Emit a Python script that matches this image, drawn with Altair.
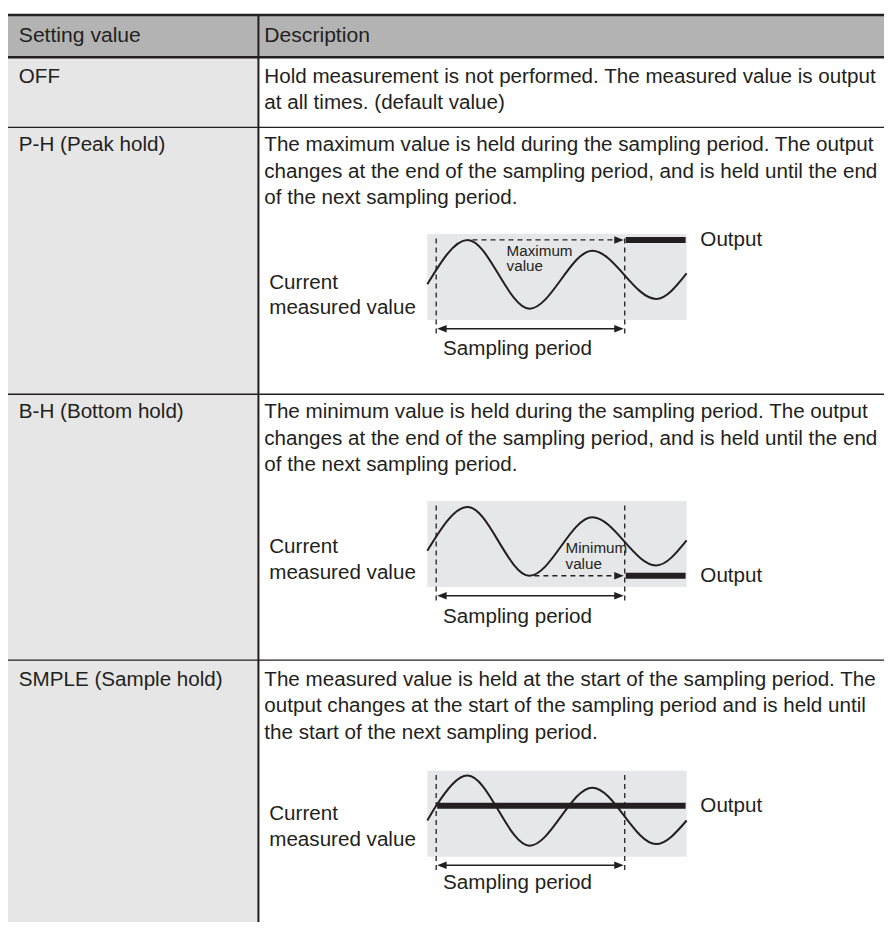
import altair as alt
import pandas as pd

# ------------------------------------------------------------------ data
HEADERS = ["Setting value", "Description"]
SETTINGS = ["OFF", "P-H (Peak hold)", "B-H (Bottom hold)", "SMPLE (Sample hold)"]
DESCRIPTIONS = [
    ["Hold measurement is not performed. The measured value is output",
     "at all times. (default value)"],
    ["The maximum value is held during the sampling period. The output",
     "changes at the end of the sampling period, and is held until the end",
     "of the next sampling period."],
    ["The minimum value is held during the sampling period. The output",
     "changes at the end of the sampling period, and is held until the end",
     "of the next sampling period."],
    ["The measured value is held at the start of the sampling period. The",
     "output changes at the start of the sampling period and is held until",
     "the start of the next sampling period."],
]
DIAGRAMS = ["P-H", "B-H", "SMPLE"]
SIGNAL_LABEL = ["Current", "measured value"]
OUTPUT_LABEL = "Output"
PERIOD_LABEL = "Sampling period"
HOLD_LABELS = [["Maximum", "value"], ["Minimum", "value"], []]

# measured signal: position across the box / depth below the box top
WAVE_POS = [[0, 41, 104, 168, 233, 264],
            [0, 41, 104, 168, 233, 264],
            [0, 9, 41, 104, 168, 233, 264]]
WAVE_DEPTH = [[51, 6, 76, 17, 66, 40],
              [50.5, 6, 76, 16.5, 65.5, 40],
              [50.7, 35.7, 5, 76.3, 17.3, 74.7, 50.7]]
# held output level (depth below the box top)
OUTPUT_DEPTH = [6, 76, 35.7]

# ------------------------------------------------------------------ layout
REF_W, REF_H = 892, 930
PLOT_W, PLOT_H = 876, 914
K = PLOT_W / REF_W

TOP_Y = 7
ROW_Y = [50, 121.5, 393, 663.5]
COL_X = 255
LEFT_X = 11
DESC_X = 261
HEAD_BASE = 34.5
ROW_BASE = [76, 145.7, 417.6, 689.7]
LINE_GAP = 26.8
BODY_FS = 21 * K
HEAD_FS = 21.5 * K
SMALL_FS = 15.5 * K

BOX_TOP = [230, 501.7, 776]
BOX_L, BOX_R, BOX_H = 427, 691, 87.5
PER_A, PER_B = 436, 628
SIGNAL_X = 266
SIGNAL_BASE = [[285.5, 311], [554.5, 581], [826, 852.5]]
OUTPUT_X = 705
PERIOD_X = 443
PERIOD_BASE = [353, 625.4, 896.7]
HOLD_X = [507.7, 567.7, 0]
HOLD_BASE = [[252, 267.7], [555, 570.7], []]
OUT_START = [PER_B + 1, PER_B + 1, PER_A + 1]

INK = "#231f20"
HEAD_FILL = "#b3b3b3"
LEFT_FILL = "#e6e6e6"
BOX_FILL = "#e6e7e8"

xs = alt.Scale(domain=[0, REF_W], nice=False, zero=False)
ys = alt.Scale(domain=[0, REF_H], nice=False, zero=False, reverse=True)
X = lambda f="x": alt.X(f"{f}:Q", scale=xs, axis=None)
Y = lambda f="y": alt.Y(f"{f}:Q", scale=ys, axis=None)

# ---- fills
rects = [dict(x=0, x2=REF_W, y=TOP_Y, y2=ROW_Y[0], fill=HEAD_FILL),
         dict(x=0, x2=COL_X, y=ROW_Y[0], y2=REF_H, fill=LEFT_FILL)]
for t in BOX_TOP:
    rects.append(dict(x=BOX_L, x2=BOX_R, y=t, y2=t + BOX_H, fill=BOX_FILL))
rect_layer = alt.Chart(pd.DataFrame(rects)).mark_rect().encode(
    x=X(), x2="x2:Q", y=Y(), y2="y2:Q", fill=alt.Fill("fill:N", scale=None))

# ---- solid rules
rules = [dict(x=0, x2=REF_W, y=TOP_Y, y2=TOP_Y, w=2.5),
         dict(x=0, x2=REF_W, y=ROW_Y[0], y2=ROW_Y[0], w=2.5)]
for ry in ROW_Y[1:]:
    rules.append(dict(x=0, x2=REF_W, y=ry, y2=ry, w=1.3))
rules.append(dict(x=COL_X, x2=COL_X, y=TOP_Y, y2=REF_H, w=2))
for i, t in enumerate(BOX_TOP):
    oy = t + OUTPUT_DEPTH[i]
    rules.append(dict(x=OUT_START[i], x2=BOX_R - 1, y=oy, y2=oy, w=6))
    sy = t + 96.3
    rules.append(dict(x=PER_A + 8, x2=PER_B - 9, y=sy, y2=sy, w=1.5))
rule_layer = alt.Chart(pd.DataFrame(rules)).mark_rule(color=INK).encode(
    x=X(), x2="x2:Q", y=Y(), y2="y2:Q", strokeWidth=alt.StrokeWidth("w:Q", scale=None))

# ---- dashed rules
dashed = []
for i, t in enumerate(BOX_TOP):
    for px in (PER_A, PER_B):
        dashed.append(dict(x=px, x2=px, y=t + 4.5, y2=t + 104))
    if i < 2:
        hy = t + OUTPUT_DEPTH[i]
        ext = BOX_L + WAVE_POS[i][1 if i == 0 else 2] + 5
        dashed.append(dict(x=ext, x2=PER_B - 8, y=hy, y2=hy))
dash_layer = alt.Chart(pd.DataFrame(dashed)).mark_rule(
    color=INK, strokeWidth=1.3, strokeDash=[5, 4]).encode(
    x=X(), x2="x2:Q", y=Y(), y2="y2:Q")

# ---- arrowheads
right_tips, left_tips = [], []
for i, t in enumerate(BOX_TOP):
    right_tips.append(dict(x=PER_B - 1, y=t + 96.3))
    left_tips.append(dict(x=PER_A + 1, y=t + 96.3))
    if i < 2:
        right_tips.append(dict(x=PER_B - 1, y=t + OUTPUT_DEPTH[i]))
right_layer = alt.Chart(pd.DataFrame(right_tips)).mark_point(
    shape="M0,0L-2,-0.8L-2,0.8Z", filled=True, size=90, color=INK, opacity=1,
    strokeWidth=0).encode(x=X(), y=Y())
left_layer = alt.Chart(pd.DataFrame(left_tips)).mark_point(
    shape="M0,0L2,-0.8L2,0.8Z", filled=True, size=90, color=INK, opacity=1,
    strokeWidth=0).encode(x=X(), y=Y())

# ---- waves
wave_rows = []
for i, name in enumerate(DIAGRAMS):
    for p, d in zip(WAVE_POS[i], WAVE_DEPTH[i]):
        wave_rows.append(dict(diagram=name, x=BOX_L + p, y=BOX_TOP[i] + d))
wave_layer = alt.Chart(pd.DataFrame(wave_rows)).mark_line(
    interpolate="monotone", color=INK, strokeWidth=2).encode(
    x=X(), y=Y(), detail="diagram:N")

# ---- texts
texts = [dict(text=HEADERS[0], x=LEFT_X, y=HEAD_BASE, fs=HEAD_FS),
         dict(text=HEADERS[1], x=DESC_X, y=HEAD_BASE, fs=HEAD_FS)]
for r, label in enumerate(SETTINGS):
    texts.append(dict(text=label, x=LEFT_X, y=ROW_BASE[r], fs=BODY_FS))
    for j, line in enumerate(DESCRIPTIONS[r]):
        texts.append(dict(text=line, x=DESC_X, y=ROW_BASE[r] + j * LINE_GAP, fs=BODY_FS))
for i, t in enumerate(BOX_TOP):
    for j, line in enumerate(SIGNAL_LABEL):
        texts.append(dict(text=line, x=SIGNAL_X, y=SIGNAL_BASE[i][j], fs=BODY_FS))
    texts.append(dict(text=OUTPUT_LABEL, x=OUTPUT_X, y=t + OUTPUT_DEPTH[i] + 6.3, fs=BODY_FS))
    texts.append(dict(text=PERIOD_LABEL, x=PERIOD_X, y=PERIOD_BASE[i], fs=BODY_FS))
    for j, line in enumerate(HOLD_LABELS[i]):
        texts.append(dict(text=line, x=HOLD_X[i], y=HOLD_BASE[i][j], fs=SMALL_FS))
text_layer = alt.Chart(pd.DataFrame(texts)).mark_text(
    align="left", baseline="alphabetic", font="Liberation Sans", color=INK).encode(
    x=X(), y=Y(), text="text:N", size=alt.Size("fs:Q", scale=None))

chart = alt.layer(
    rect_layer, text_layer, dash_layer, rule_layer, wave_layer, right_layer, left_layer
).properties(
    width=PLOT_W, height=PLOT_H, padding=0,
    autosize=alt.AutoSizeParams(type="none"),
).configure_view(stroke=None)

chart.save("out.html", embed_options={"renderer": "svg", "actions": False})
